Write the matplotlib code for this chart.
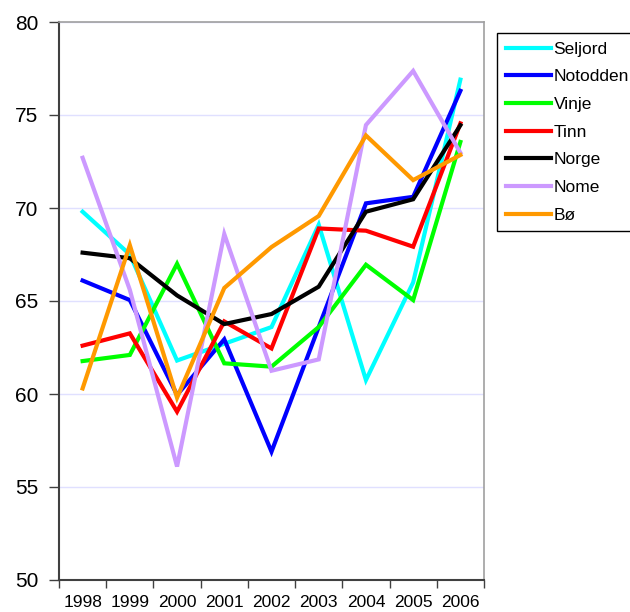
import matplotlib
matplotlib.use("Agg")
import matplotlib.pyplot as plt
from matplotlib.ticker import FixedLocator, NullFormatter

plt.rcParams['font.family'] = ['Liberation Sans', 'DejaVu Sans']

# -----------------------------
# data
# -----------------------------
years = ["1998", "1999", "2000", "2001", "2002", "2003", "2004", "2005", "2006"]

seljord = [69.8, 67.5, 61.8, 62.7, 63.6, 69.1, 60.75, 66.0, 76.9]
notodden = [66.1, 65.05, 59.95, 62.94, 56.9, 63.6, 70.25, 70.6, 76.3]
vinje = [61.77, 62.1, 67.0, 61.65, 61.47, 63.6, 66.95, 65.05, 73.55]
tinn = [62.6, 63.26, 59.05, 63.9, 62.45, 68.9, 68.78, 67.92, 74.55]
norge = [67.6, 67.3, 65.3, 63.76, 64.3, 65.77, 69.8, 70.47, 74.45]
nome = [72.7, 65.6, 56.1, 68.6, 61.25, 61.86, 74.46, 77.37, 72.97]
bo = [60.3, 68.0, 59.8, 65.7, 67.9, 69.57, 73.9, 71.5, 72.85]

names = ["Seljord", "Notodden", "Vinje", "Tinn", "Norge", "Nome", "Bø"]
series = [seljord, notodden, vinje, tinn, norge, nome, bo]
colors = ["#00ffff", "#0000ff", "#00ff00", "#ff0000", "#000000", "#cc99ff", "#ff9900"]

# -----------------------------
# figure
# -----------------------------
fig = plt.figure(figsize=(6.3, 6.12), dpi=100)
ax = fig.add_axes([59 / 630, 32 / 612, 425 / 630, 558 / 612])

x = list(range(len(years)))
for name, vals, c in zip(names, series, colors):
    ax.plot(x, vals, color=c, lw=3, label=name, solid_joinstyle="miter")

ax.set_ylim(50, 80)
ax.set_xlim(-0.5, len(years) - 0.5)
ax.set_yticks([50, 55, 60, 65, 70, 75, 80])
ax.yaxis.grid(True, color="#e0e0ff", lw=1)
ax.set_axisbelow(True)

# ticks between categories, labels centred
ax.xaxis.set_major_locator(FixedLocator([i - 0.5 for i in range(len(years) + 1)]))
ax.xaxis.set_major_formatter(NullFormatter())
ax.xaxis.set_minor_locator(FixedLocator(x))
ax.set_xticklabels(years, minor=True)
ax.tick_params(axis="x", which="minor", length=0, labelsize=12.5, pad=11)
ax.tick_params(axis="x", which="major", length=6, width=1, color="#404040", direction="out")
ax.tick_params(axis="y", length=7, width=1, color="#404040", labelsize=15, pad=8)

ax.spines["left"].set_color("#404040")
ax.spines["bottom"].set_color("#404040")
ax.spines["left"].set_linewidth(1.5)
ax.spines["bottom"].set_linewidth(1.5)
ax.spines["top"].set_color("#a0a0a0")
ax.spines["right"].set_color("#a0a0a0")
ax.spines["top"].set_linewidth(1.2)
ax.spines["right"].set_linewidth(1.2)

leg = fig.legend(loc="upper left", bbox_to_anchor=(497 / 630, 1 - 33 / 612),
                 fontsize=12.5, frameon=True, fancybox=False, framealpha=1,
                 edgecolor="black", borderaxespad=0, borderpad=0.5,
                 handlelength=2.6, handletextpad=0.15, labelspacing=0.72)
leg.get_frame().set_linewidth(1)

plt.savefig("out.png", dpi=100)
